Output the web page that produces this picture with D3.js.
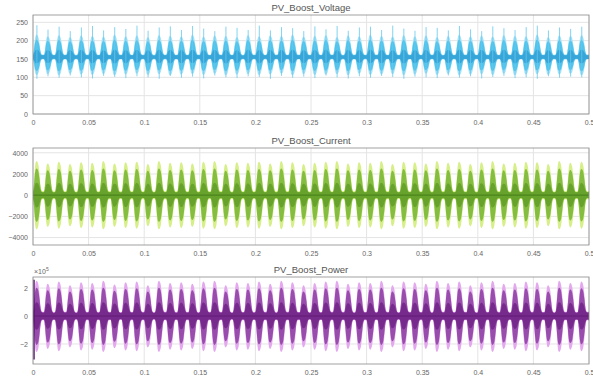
<!DOCTYPE html>
<html>
<head>
<meta charset="utf-8">
<script src="https://cdn.jsdelivr.net/npm/d3@7"></script>
<style>
  body { margin: 0; background: #fff; }
  svg { display: block; font-family: "Liberation Sans", Arial, sans-serif; }
  .tick text { fill: #666; font-size: 7px; }
  .grid line { stroke: #e4e4e4; }
</style>
</head>
<body>
<svg id="viz" width="593" height="381"></svg>
<script>
// time axis (s)
var xTicks = [0, 0.05, 0.1, 0.15, 0.2, 0.25, 0.3, 0.35, 0.4, 0.45, 0.5];
var xTickLabels = ["0", "0.05", "0.1", "0.15", "0.2", "0.25", "0.3", "0.35", "0.4", "0.45", "0.5"];
var period = 0.01; // one burst every 10 ms

var burstShape = [0.14, 0.4, 0.78, 0.97, 1.0, 0.96, 0.86, 0.62, 0.32, 0.16, 0.12, 0.12];

// PV_Boost_Voltage
var voltTicks = [0, 50, 100, 150, 200, 250];
var voltMean = 155;
var voltUp = [58, 54, 57, 52, 56, 55, 53, 58, 54, 56, 52, 57, 55, 54, 58, 53, 56, 55, 52, 57,
              54, 56, 55, 58, 53, 55, 57, 52, 56, 54, 58, 55, 53, 57, 54, 56, 52, 55, 58, 54,
              56, 53, 57, 55, 54, 58, 52, 56, 55, 57];
var voltDown = [46, 44, 47, 43, 45, 46, 44, 47, 45, 43, 46, 44, 47, 45, 44, 46, 43, 47, 45, 44,
                46, 45, 43, 47, 44, 46, 45, 44, 47, 43, 46, 45, 44, 47, 45, 43, 46, 44, 47, 45,
                44, 46, 43, 47, 45, 44, 46, 45, 43, 47];
var voltSpikeHi = [242, 230, 238, 226, 236, 240, 228, 237, 232, 241, 227, 236, 239, 229, 240, 233, 226, 238, 235, 229,
                   241, 228, 237, 234, 226, 239, 231, 240, 227, 236, 238, 229, 241, 233, 227, 237, 235, 228, 240, 231,
                   226, 239, 234, 229, 237, 241, 228, 236, 232, 238];
var voltSpikeLo = [96, 103, 99, 105, 100, 97, 104, 101, 98, 103, 100, 96, 104, 99, 102, 97, 105, 100, 98, 103,
                   101, 96, 104, 99, 102, 98, 105, 100, 97, 103, 99, 104, 101, 96, 102, 100, 98, 105, 99, 103,
                   97, 101, 104, 98, 100, 96, 103, 99, 102, 100];

// PV_Boost_Current
var currTicks = [-4000, -2000, 0, 2000, 4000];
var currAmp = [2800, 2600, 2750, 2550, 2700, 2650, 2800, 2600, 2700, 2750, 2550, 2800, 2650, 2700, 2600, 2750, 2800, 2550, 2700, 2650,
               2750, 2600, 2800, 2700, 2550, 2650, 2750, 2800, 2600, 2700, 2650, 2800, 2550, 2750, 2700, 2600, 2800, 2650, 2750, 2550,
               2700, 2800, 2600, 2650, 2750, 2700, 2550, 2800, 2650, 2750];

// PV_Boost_Power (x 10^5)
var powTicks = [-2, 0, 2];
var powAmp = [2.3, 2.1, 2.25, 2.0, 2.2, 2.15, 2.3, 2.05, 2.2, 2.25, 2.0, 2.3, 2.15, 2.2, 2.1, 2.25, 2.3, 2.0, 2.2, 2.15,
              2.25, 2.1, 2.3, 2.2, 2.0, 2.15, 2.25, 2.3, 2.1, 2.2, 2.15, 2.3, 2.0, 2.25, 2.2, 2.1, 2.3, 2.15, 2.25, 2.0,
              2.2, 2.3, 2.1, 2.15, 2.25, 2.2, 2.0, 2.3, 2.15, 2.25];

var svg = d3.select("#viz");
var left = 33, right = 589;
var x = d3.scaleLinear().domain([0, 0.5]).range([left, right]);

// build envelope rows for one panel: hi/lo = function(burst index, shape) -> value
function envelope(n, hi, lo) {
  var pts = [];
  var k, j;
  for (k = 0; k < n; k++) {
    for (j = 0; j < burstShape.length; j++) {
      pts.push({ t: (k + j / burstShape.length) * period, hi: hi(k, burstShape[j]), lo: lo(k, burstShape[j]) });
    }
  }
  pts.push({ t: 0.5, hi: hi(n - 1, burstShape[0]), lo: lo(n - 1, burstShape[0]) });
  return pts;
}

function panel(opt) {
  var y = d3.scaleLinear().domain(opt.domain).range([opt.bottom, opt.top]);
  var g = svg.append("g");
  var id = "clip" + opt.top;

  g.append("clipPath").attr("id", id).append("rect")
    .attr("x", left).attr("y", opt.top).attr("width", right - left).attr("height", opt.bottom - opt.top);

  // grid
  g.append("g").attr("class", "grid")
    .selectAll("line.gx").data(xTicks).enter().append("line")
    .attr("x1", x).attr("x2", x).attr("y1", opt.top).attr("y2", opt.bottom);
  g.append("g").attr("class", "grid")
    .selectAll("line.gy").data(opt.ticks).enter().append("line")
    .attr("x1", left).attr("x2", right).attr("y1", y).attr("y2", y);

  var plot = g.append("g").attr("clip-path", "url(#" + id + ")");
  opt.layers.forEach(function (L) {
    var area = d3.area()
      .curve(d3.curveMonotoneX)
      .x(function (d) { return x(d.t); })
      .y0(function (d) { return y(d.lo); })
      .y1(function (d) { return y(d.hi); });
    plot.append("path").datum(L.data).attr("d", area).attr("fill", L.color).attr("opacity", L.opacity || 1);
  });
  if (opt.spikes) {
    plot.selectAll("line.spike").data(opt.spikes).enter().append("line")
      .attr("x1", function (d) { return x(d.t); }).attr("x2", function (d) { return x(d.t); })
      .attr("y1", function (d) { return y(d.lo); }).attr("y2", function (d) { return y(d.hi); })
      .attr("stroke", opt.spikeColor).attr("stroke-width", 0.8);
  }
  if (opt.centre !== undefined) {
    plot.append("line").attr("x1", left).attr("x2", right)
      .attr("y1", y(opt.centre)).attr("y2", y(opt.centre))
      .attr("stroke", opt.centreColor).attr("stroke-width", 1.2).attr("opacity", 0.7);
  }
  if (opt.startSpike) {
    plot.append("line")
      .attr("x1", x(0) + 1).attr("x2", x(0) + 1)
      .attr("y1", y(opt.startSpike[0])).attr("y2", y(opt.startSpike[1]))
      .attr("stroke", opt.centreColor).attr("stroke-width", 1.5);
  }

  // axes
  var xa = g.append("g").attr("transform", "translate(0," + opt.bottom + ")")
    .call(d3.axisBottom(x).tickValues(xTicks).tickFormat(function (d, i) { return xTickLabels[i]; }).tickSize(0).tickPadding(6));
  xa.select(".domain").remove();
  var ya = g.append("g").attr("transform", "translate(" + left + ",0)")
    .call(d3.axisLeft(y).tickValues(opt.ticks).tickFormat(d3.format("d")).tickSize(0).tickPadding(5));
  ya.select(".domain").remove();

  g.append("rect").attr("x", left).attr("y", opt.top)
    .attr("width", right - left).attr("height", opt.bottom - opt.top)
    .attr("fill", "none").attr("stroke", "#8a8a8a").attr("stroke-width", 0.8);

  g.append("text").attr("x", (left + right) / 2).attr("y", opt.top - 4)
    .attr("text-anchor", "middle").attr("font-size", 9.5).attr("fill", "#555").text(opt.title);
  return y;
}

var nB = voltUp.length;

// voltage
var vOuter = envelope(nB, function (k, s) { return voltMean + voltUp[k] * s * 1.05; }, function (k, s) { return voltMean - voltDown[k] * s * 1.05; });
var vMain = envelope(nB, function (k, s) { return voltMean + voltUp[k] * s * 0.82; }, function (k, s) { return voltMean - voltDown[k] * s * 0.82; });
var vCore = envelope(nB, function (k, s) { return voltMean + voltUp[k] * s * 0.3 + 3; }, function (k, s) { return voltMean - voltDown[k] * s * 0.3 - 3; });
panel({
  title: "PV_Boost_Voltage", top: 15, bottom: 114, domain: [0, 270], ticks: voltTicks,
  layers: [
    { data: vOuter, color: "#a6e2f7" },
    { data: vMain, color: "#52c4ec" },
    { data: vCore, color: "#38a5d8" }
  ],
  spikes: voltSpikeHi.map(function (h, k) { return { t: (k + 0.35) * period, hi: h, lo: voltSpikeLo[k] }; }),
  spikeColor: "#63c8ee"
});

// current
var cOuter = envelope(nB, function (k, s) { return currAmp[k] * s * 1.15; }, function (k, s) { return -currAmp[k] * s * 1.15; });
var cMain = envelope(nB, function (k, s) { return currAmp[k] * s * 0.9; }, function (k, s) { return -currAmp[k] * s * 0.9; });
var cCore = envelope(nB, function (k, s) { return currAmp[k] * s * 0.36 + 150; }, function (k, s) { return -currAmp[k] * s * 0.36 - 150; });
panel({
  title: "PV_Boost_Current", top: 148, bottom: 245, domain: [-4700, 4450], ticks: currTicks,
  layers: [
    { data: cOuter, color: "#d6ef88" },
    { data: cMain, color: "#85bd40" },
    { data: cCore, color: "#67a22c" }
  ],
  centre: 0, centreColor: "#3f7a14"
});

// power
var pOuter = envelope(nB, function (k, s) { return powAmp[k] * s * 1.1; }, function (k, s) { return -powAmp[k] * s * 1.12; });
var pMain = envelope(nB, function (k, s) { return powAmp[k] * s * 0.88; }, function (k, s) { return -powAmp[k] * s * 0.9; });
var pCore = envelope(nB, function (k, s) { return powAmp[k] * s * 0.36 + 0.15; }, function (k, s) { return -powAmp[k] * s * 0.36 - 0.15; });
panel({
  title: "PV_Boost_Power", top: 277, bottom: 364, domain: [-3.43, 2.79], ticks: powTicks,
  layers: [
    { data: pOuter, color: "#e4a8ef" },
    { data: pMain, color: "#984cac" },
    { data: pCore, color: "#762a8b" }
  ],
  centre: 0, centreColor: "#5a1570",
  startSpike: [2.6, -3.1]
});

// exponent label of the power axis
var ex = svg.append("text").attr("x", left + 1).attr("y", 274).attr("font-size", 7).attr("fill", "#666");
ex.append("tspan").text("\u00d710");
ex.append("tspan").attr("dy", -3).attr("font-size", 5).text("5");
</script>
</body>
</html>
